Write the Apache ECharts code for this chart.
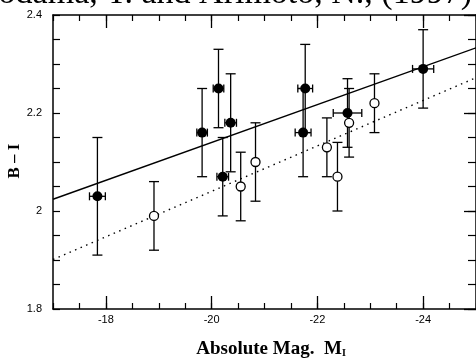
<!DOCTYPE html>
<html>
<head>
<meta charset="utf-8">
<script src="https://cdn.jsdelivr.net/npm/echarts@6/dist/echarts.min.js"></script>
<style>
  html, body { margin: 0; padding: 0; background: #fff; }
  #chart { width: 476px; height: 359px; }
</style>
</head>
<body>
<div id="chart"></div>
<script>
// filled circles: absolute mag, B-I colour, errors
const filledMag = [-17.84, -19.82, -20.13, -20.36, -20.21, -21.77, -21.73, -22.57, -24.0];
const filledCol = [2.03, 2.16, 2.25, 2.18, 2.07, 2.25, 2.16, 2.20, 2.29];
const filledErrY = [0.12, 0.09, 0.08, 0.10, 0.08, 0.09, 0.09, 0.07, 0.08];
const filledErrX = [0.15, 0.10, 0.10, 0.11, 0.11, 0.14, 0.15, 0.27, 0.20];

// open circles
const openMag = [-18.91, -20.55, -20.83, -22.18, -22.38, -22.60, -23.08];
const openCol = [1.99, 2.05, 2.10, 2.13, 2.07, 2.18, 2.22];
const openErrY = [0.07, 0.07, 0.08, 0.06, 0.07, 0.07, 0.06];

// fitted relations (end points)
const fitMag = [-17, -25];
const solidFit = [2.024, 2.333];
const dottedFit = [1.901, 2.272];

const xMajor = [-24, -22, -20, -18];
const yMajor = [1.8, 2.0, 2.2, 2.4];

const serif = '"Liberation Serif", "DejaVu Serif", serif';
const sans = '"Liberation Sans", Arial, sans-serif';

const chart = echarts.init(document.getElementById('chart'));

const errBar = (params, api) => {
  const x = api.value(0), y = api.value(1), ey = api.value(2), ex = api.value(3);
  const top = api.coord([x, y + ey]);
  const bot = api.coord([x, y - ey]);
  const st = { stroke: '#000', lineWidth: 1.3 };
  const cap = 5;
  const kids = [
    { type: 'line', shape: { x1: top[0], y1: top[1], x2: bot[0], y2: bot[1] }, style: st },
    { type: 'line', shape: { x1: top[0] - cap, y1: top[1], x2: top[0] + cap, y2: top[1] }, style: st },
    { type: 'line', shape: { x1: bot[0] - cap, y1: bot[1], x2: bot[0] + cap, y2: bot[1] }, style: st }
  ];
  if (ex > 0) {
    const l = api.coord([x - ex, y]);
    const r = api.coord([x + ex, y]);
    kids.push(
      { type: 'line', shape: { x1: l[0], y1: l[1], x2: r[0], y2: r[1] }, style: st },
      { type: 'line', shape: { x1: l[0], y1: l[1] - 4, x2: l[0], y2: l[1] + 4 }, style: st },
      { type: 'line', shape: { x1: r[0], y1: r[1] - 4, x2: r[0], y2: r[1] + 4 }, style: st }
    );
  }
  return { type: 'group', children: kids };
};

const baseX = {
  type: 'value', min: -25, max: -17, inverse: true,
  splitLine: { show: false },
  axisLine: { lineStyle: { color: '#000', width: 1.5 } }
};
const baseY = {
  type: 'value', min: 1.8, max: 2.4,
  splitLine: { show: false },
  axisLine: { lineStyle: { color: '#000', width: 1.5 } }
};

chart.setOption({
  animation: false,
  backgroundColor: '#fff',
  grid: { left: 53, right: -4, top: 15, bottom: 50 },
  xAxis: [
    { ...baseX, position: 'bottom', interval: 0.5,
      axisTick: { inside: true, length: 6, lineStyle: { color: '#000', width: 1.2 } },
      axisLabel: { show: false } },
    { ...baseX, position: 'bottom', axisLine: { show: false },
      axisTick: { inside: true, length: 13, customValues: xMajor, lineStyle: { color: '#000', width: 1.3 } },
      axisLabel: { customValues: xMajor, margin: 5, color: '#000', fontFamily: sans, fontSize: 11,
        formatter: v => String(v) } },
    { ...baseX, position: 'top', interval: 0.5,
      axisTick: { inside: true, length: 6, lineStyle: { color: '#000', width: 1.2 } },
      axisLabel: { show: false } },
    { ...baseX, position: 'top', axisLine: { show: false },
      axisTick: { inside: true, length: 13, customValues: xMajor, lineStyle: { color: '#000', width: 1.3 } },
      axisLabel: { show: false } }
  ],
  yAxis: [
    { ...baseY, position: 'left', interval: 0.05,
      axisTick: { inside: true, length: 7, lineStyle: { color: '#000', width: 1.2 } },
      axisLabel: { show: false } },
    { ...baseY, position: 'left', axisLine: { show: false },
      axisTick: { show: false },
      axisLabel: { customValues: yMajor, margin: 11, color: '#000', fontFamily: sans, fontSize: 11,
        formatter: v => String(+v.toFixed(1)) } },
    { ...baseY, position: 'right', interval: 0.05,
      axisTick: { inside: true, length: 8, lineStyle: { color: '#000', width: 1.2 } },
      axisLabel: { show: false } },
    { ...baseY, position: 'right', axisLine: { show: false },
      axisTick: { inside: true, length: 12, customValues: yMajor, lineStyle: { color: '#000', width: 1.3 } },
      axisLabel: { show: false } }
  ],
  graphic: [
    // caption of the source figure, cut off by the top edge
    { type: 'text', x: 472, y: 11, style: { text: 'Kodama, T. and Arimoto, N., (1997)', font: '34px ' + serif,
      fill: '#000', align: 'right', verticalAlign: 'bottom' } },
    { type: 'text', x: 271, y: 349, style: {
      text: '{a|Absolute Mag.  M}{s|I}', align: 'center', verticalAlign: 'middle',
      rich: { a: { font: 'bold 19px ' + serif, fill: '#000' },
              s: { font: 'bold 10px ' + serif, fill: '#000', padding: [8, 0, 0, 0] } } } },
    { type: 'text', x: 15, y: 161, rotation: Math.PI / 2, style: {
      text: 'B \u2013 I', font: 'bold 17px ' + serif, fill: '#000',
      align: 'center', verticalAlign: 'middle' } }
  ],
  series: [
    { type: 'line', xAxisIndex: 0, yAxisIndex: 0, symbol: 'none',
      data: fitMag.map((m, i) => [m, solidFit[i]]),
      lineStyle: { color: '#000', width: 1.4 } },
    { type: 'line', xAxisIndex: 0, yAxisIndex: 0, symbol: 'none',
      data: fitMag.map((m, i) => [m, dottedFit[i]]),
      lineStyle: { color: '#000', width: 1.4, type: [1.5, 4.5] } },
    { type: 'custom', xAxisIndex: 0, yAxisIndex: 0, renderItem: errBar, z: 3,
      data: filledMag.map((m, i) => [m, filledCol[i], filledErrY[i], filledErrX[i]]) },
    { type: 'custom', xAxisIndex: 0, yAxisIndex: 0, renderItem: errBar, z: 3,
      data: openMag.map((m, i) => [m, openCol[i], openErrY[i], 0]) },
    { type: 'scatter', xAxisIndex: 0, yAxisIndex: 0, symbolSize: 10, z: 5,
      itemStyle: { color: '#000', opacity: 1 },
      data: filledMag.map((m, i) => [m, filledCol[i]]) },
    { type: 'scatter', xAxisIndex: 0, yAxisIndex: 0, symbolSize: 9, z: 5,
      itemStyle: { color: '#fff', borderColor: '#000', borderWidth: 1.3, opacity: 1 },
      data: openMag.map((m, i) => [m, openCol[i]]) }
  ]
});
</script>
</body>
</html>
